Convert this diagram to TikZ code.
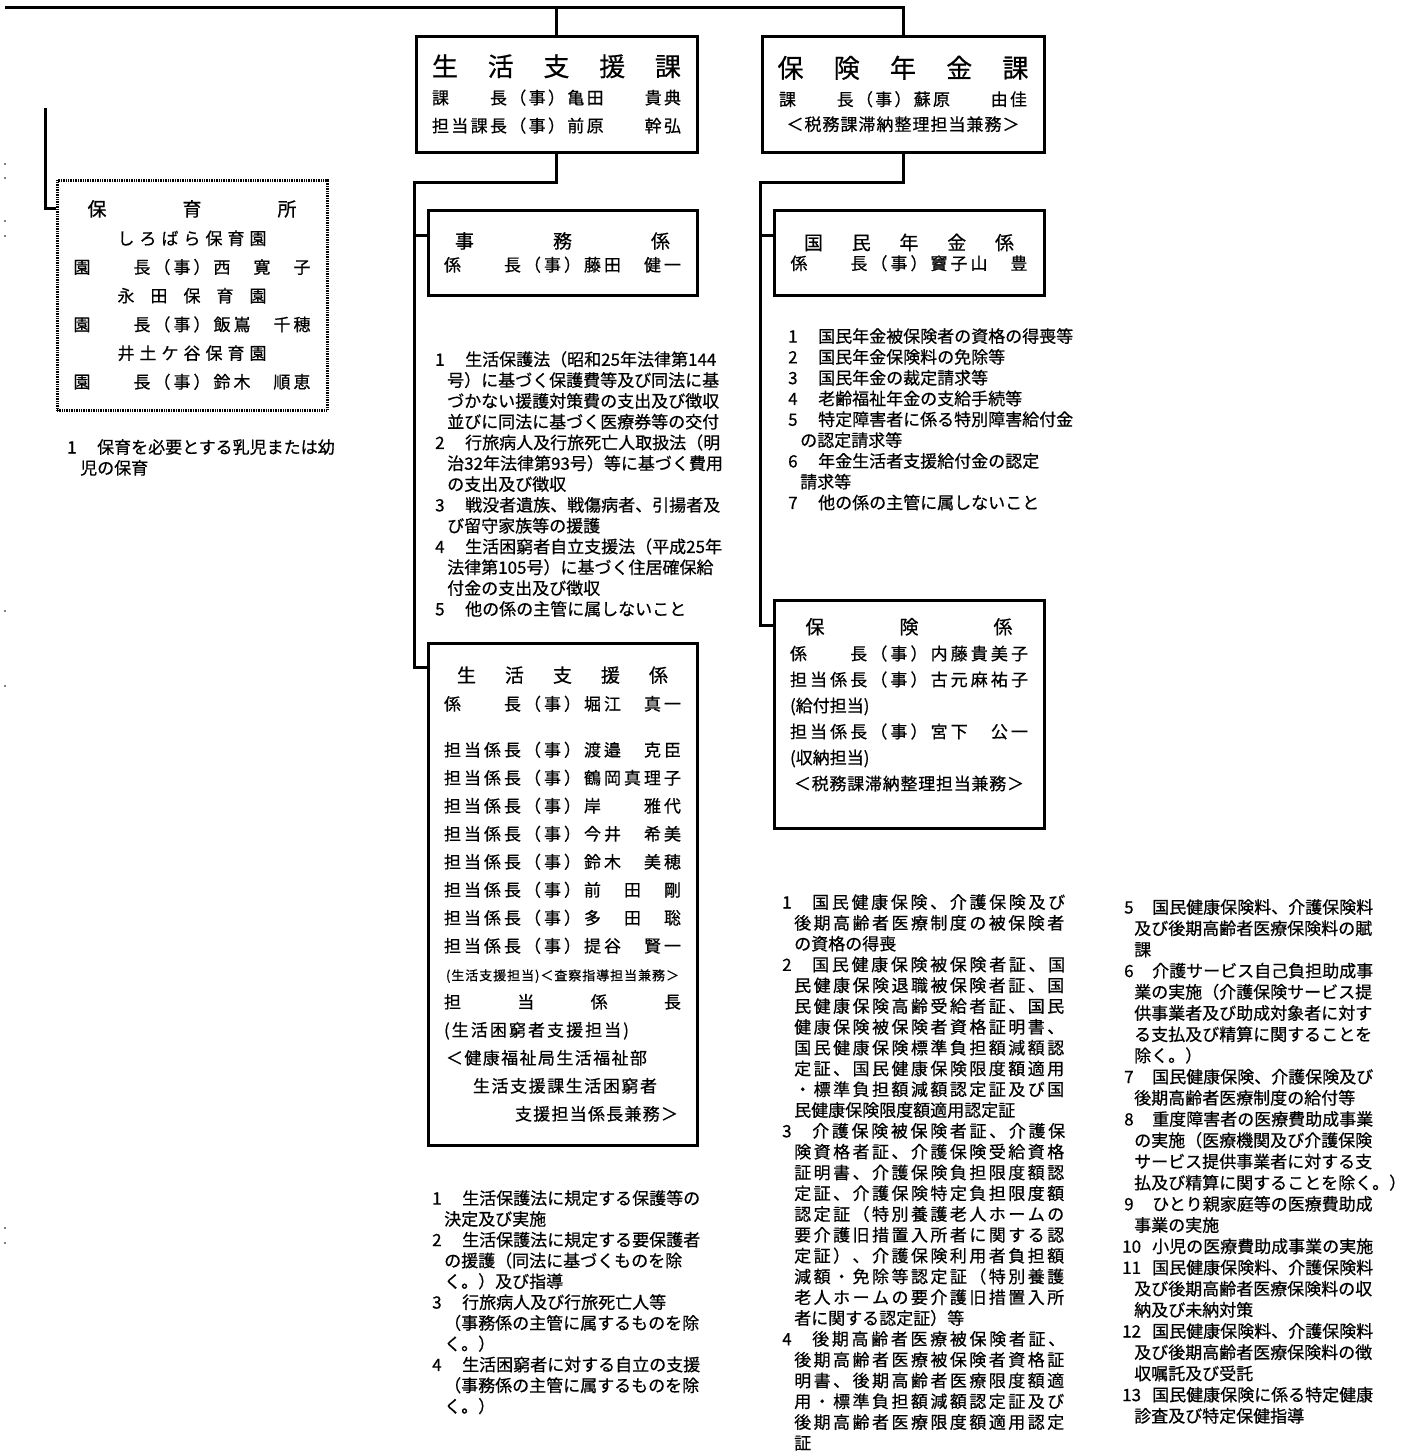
\documentclass[tikz,border=0pt]{standalone}
\usepackage{fontspec}
\setmainfont{Noto Sans CJK JP}[FakeBold=0.6]
\usetikzlibrary{positioning,calc}

\makeatletter
% spread the characters of #2 over the width #1
\def\sprEnd{\sprEnd@}
\newcommand\spr[2]{\makebox[#1][s]{\spr@a#2\sprEnd}}
\def\spr@a#1{#1\futurelet\spr@n\spr@b}
\def\spr@b{\ifx\spr@n\sprEnd\expandafter\@gobble\else\hfill\expandafter\spr@a\fi}
\makeatother

\def\0{\hphantom{国}}
\newcommand\itemno[1]{\makebox[30pt][l]{#1}}
\newcommand\indt{\hspace*{12pt}}
\newcommand\katitle{\fontsize{26}{28}\selectfont}
\newcommand\kakarititle{\fontsize{19}{23}\selectfont}

\tikzset{
  kabox/.style={draw, line width=3pt, minimum width=281pt, minimum height=116pt, align=center, font=\fontsize{17}{28}\selectfont},
  kakaribox/.style={draw, line width=3pt, minimum width=269pt, align=center, font=\fontsize{17}{23}\selectfont},
  hoikubox/.style={draw, line width=3pt, dash pattern=on 1pt off 0.7pt, minimum width=270pt, minimum height=230pt, align=center, font=\fontsize{17}{28.7}\selectfont},
  duties/.style={anchor=north west, align=left, font=\fontsize{17}{20.8}\selectfont},
  link/.style={line width=3pt}
}

\begin{document}
\begin{tikzpicture}[x=1pt, y=-1pt, every node/.append style={inner sep=0pt}]
    \useasboundingbox (0,0) rectangle (1418,1456);

    % 課
    \node[kabox] (seikatsu) at (556.5,94) {{\katitle\spr{249pt}{生活支援課}}\\
        \spr{249pt}{課\0\0長（事）亀田\0\0貴典}\\
        \spr{249pt}{担当課長（事）前原\0\0幹弘}};
    \node[kabox, minimum width=282pt] (hoken) at (903,94) {{\katitle\spr{251pt}{保険年金課}}\\
        \spr{248pt}{課\0\0長（事）蘇原\0\0由佳}\\[-3pt]
        \spr{233pt}{＜税務課滞納整理担当兼務＞}};

    % 係
    \node[kakaribox, minimum height=85pt] (jimu) at (562.5,252.5) {{\kakarititle\spr{215pt}{事務係}}\\
        \spr{237pt}{係\0\0長（事）藤田\0健一}};
    \node[kakaribox, minimum height=85pt, minimum width=270pt] (kokumin) at (909,252.5) {{\kakarititle\spr{210pt}{国民年金係}}\\[-3pt]
        \spr{237pt}{係\0\0長（事）竇子山\0豊}};
    \node[kakaribox, minimum height=228pt, minimum width=270pt, font=\fontsize{17}{26}\selectfont] (hokengakari) at (909,714) {{\kakarititle\spr{207pt}{保険係}}\\
        \spr{238pt}{係\0\0長（事）内藤貴美子}\\
        \spr{238pt}{担当係長（事）古元麻祐子}\\
        \makebox[238pt][l]{(給付担当)}\\
        \spr{238pt}{担当係長（事）宮下\0公一}\\
        \makebox[238pt][l]{(収納担当)}\\
        \spr{230pt}{＜税務課滞納整理担当兼務＞}\\[-6pt]\mbox{}};
    \node[kakaribox, minimum height=502pt, font=\fontsize{17}{28}\selectfont] (seigakari) at (562.5,894) {{\kakarititle\spr{211pt}{生活支援係}}\\
        \spr{237pt}{係\0\0長（事）堀江\0真一}\\[18pt]
        \spr{237pt}{担当係長（事）渡邉\0克臣}\\
        \spr{237pt}{担当係長（事）鶴岡真理子}\\
        \spr{237pt}{担当係長（事）岸\0\0雅代}\\
        \spr{237pt}{担当係長（事）今井\0希美}\\
        \spr{237pt}{担当係長（事）鈴木\0美穂}\\
        \spr{237pt}{担当係長（事）前\0田\0剛}\\
        \spr{237pt}{担当係長（事）多\0田\0聡}\\
        \spr{237pt}{担当係長（事）提谷\0賢一}\\
        {\fontsize{13}{28}\selectfont\spr{233pt}{(生活支援担当)＜査察指導担当兼務＞}}\\
        \spr{237pt}{担当係長}\\
        \makebox[237pt][l]{\spr{185pt}{(生活困窮者支援担当)}}\\
        \makebox[237pt][l]{\hspace{2pt}\spr{201pt}{＜健康福祉局生活福祉部}}\\
        \makebox[237pt][l]{\hspace{29pt}\spr{184pt}{生活支援課生活困窮者}}\\
        \makebox[237pt][l]{\hspace{71pt}\spr{163pt}{支援担当係長兼務＞}}};

    % 保育所
    \node[hoikubox] (hoikusho) at (192,295) {{\kakarititle\spr{209pt}{保育所}}\\
        \spr{149pt}{しろばら保育園}\\
        \spr{237pt}{園\0\0長（事）西\0寛\0子}\\
        \spr{149pt}{永田保育園}\\
        \spr{237pt}{園\0\0長（事）飯嶌\0千穂}\\
        \spr{149pt}{井土ケ谷保育園}\\
        \spr{237pt}{園\0\0長（事）鈴木\0順恵}};

    % 分掌事務
    \node[duties] (hoikulist) at (67,439) {\itemno{1}保育を必要とする乳児または幼\\
        \hspace*{13pt}児の保育};
    \node[duties] (jimulist) at (435,351) {\itemno{1}生活保護法（昭和25年法律第144\\
        \indt 号）に基づく保護費等及び同法に基\\
        \indt づかない援護対策費の支出及び徴収\\
        \indt 並びに同法に基づく医療券等の交付\\
        \itemno{2}行旅病人及行旅死亡人取扱法（明\\
        \indt 治32年法律第93号）等に基づく費用\\
        \indt の支出及び徴収\\
        \itemno{3}戦没者遺族、戦傷病者、引揚者及\\
        \indt び留守家族等の援護\\
        \itemno{4}生活困窮者自立支援法（平成25年\\
        \indt 法律第105号）に基づく住居確保給\\
        \indt 付金の支出及び徴収\\
        \itemno{5}他の係の主管に属しないこと};
    \node[duties] (kokuminlist) at (788,328) {\itemno{1}国民年金被保険者の資格の得喪等\\
        \itemno{2}国民年金保険料の免除等\\
        \itemno{3}国民年金の裁定請求等\\
        \itemno{4}老齢福祉年金の支給手続等\\
        \itemno{5}特定障害者に係る特別障害給付金\\
        \indt の認定請求等\\
        \itemno{6}年金生活者支援給付金の認定\\
        \indt 請求等\\
        \itemno{7}他の係の主管に属しないこと};
    \node[duties] (seigakarilist) at (432,1190) {\itemno{1}生活保護法に規定する保護等の\\
        \indt 決定及び実施\\
        \itemno{2}生活保護法に規定する要保護者\\
        \indt の援護（同法に基づくものを除\\
        \indt く。）及び指導\\
        \itemno{3}行旅病人及び行旅死亡人等\\
        \indt （事務係の主管に属するものを除\\
        \indt く。）\\
        \itemno{4}生活困窮者に対する自立の支援\\
        \indt （事務係の主管に属するものを除\\
        \indt く。）};
    \node[duties] (hokenlist) at (782,894) {\itemno{1}\spr{253pt}{国民健康保険、介護保険及び}\\
        \indt\spr{270pt}{後期高齢者医療制度の被保険者}\\
        \indt の資格の得喪\\
        \itemno{2}\spr{253pt}{国民健康保険被保険者証、国}\\
        \indt\spr{270pt}{民健康保険退職被保険者証、国}\\
        \indt\spr{270pt}{民健康保険高齢受給者証、国民}\\
        \indt\spr{270pt}{健康保険被保険者資格証明書、}\\
        \indt\spr{270pt}{国民健康保険標準負担額減額認}\\
        \indt\spr{270pt}{定証、国民健康保険限度額適用}\\
        \indt\spr{270pt}{・標準負担額減額認定証及び国}\\
        \indt 民健康保険限度額適用認定証\\
        \itemno{3}\spr{253pt}{介護保険被保険者証、介護保}\\
        \indt\spr{270pt}{険資格者証、介護保険受給資格}\\
        \indt\spr{270pt}{証明書、介護保険負担限度額認}\\
        \indt\spr{270pt}{定証、介護保険特定負担限度額}\\
        \indt\spr{270pt}{認定証（特別養護老人ホームの}\\
        \indt\spr{270pt}{要介護旧措置入所者に関する認}\\
        \indt\spr{270pt}{定証）、介護保険利用者負担額}\\
        \indt\spr{270pt}{減額・免除等認定証（特別養護}\\
        \indt\spr{270pt}{老人ホームの要介護旧措置入所}\\
        \indt 者に関する認定証）等\\
        \itemno{4}\spr{253pt}{後期高齢者医療被保険者証、}\\
        \indt\spr{270pt}{後期高齢者医療被保険者資格証}\\
        \indt\spr{270pt}{明書、後期高齢者医療限度額適}\\
        \indt\spr{270pt}{用・標準負担額減額認定証及び}\\
        \indt\spr{270pt}{後期高齢者医療限度額適用認定}\\
        \indt 証};
    \node[duties, font=\fontsize{17}{21.2}\selectfont] (hokenlist2) at (1122,899) {\itemno{\hspace{2pt}5}国民健康保険料、介護保険料\\
        \indt 及び後期高齢者医療保険料の賦\\
        \indt 課\\
        \itemno{\hspace{2pt}6}介護サービス自己負担助成事\\
        \indt 業の実施（介護保険サービス提\\
        \indt 供事業者及び助成対象者に対す\\
        \indt る支払及び精算に関することを\\
        \indt 除く。）\\
        \itemno{\hspace{2pt}7}国民健康保険、介護保険及び\\
        \indt 後期高齢者医療制度の給付等\\
        \itemno{\hspace{2pt}8}重度障害者の医療費助成事業\\
        \indt の実施（医療機関及び介護保険\\
        \indt サービス提供事業者に対する支\\
        \indt 払及び精算に関することを除く。）\\
        \itemno{\hspace{2pt}9}ひとり親家庭等の医療費助成\\
        \indt 事業の実施\\
        \itemno{10}小児の医療費助成事業の実施\\
        \itemno{11}国民健康保険料、介護保険料\\
        \indt 及び後期高齢者医療保険料の収\\
        \indt 納及び未納対策\\
        \itemno{12}国民健康保険料、介護保険料\\
        \indt 及び後期高齢者医療保険料の徴\\
        \indt 収嘱託及び受託\\
        \itemno{13}国民健康保険に係る特定健康\\
        \indt 診査及び特定保健指導};

    % 組織線
    \coordinate (head) at (5,7);
    \coordinate (hoikutop) at (45,108);
    \draw[link] (head) -| (hoken.north);
    \draw[link] (seikatsu.north) -- (seikatsu.north |- head);
    \draw[link] (seikatsu.south) -- ++(0,29) -| ($(seigakari.north west)+(-12,26)$) -- ($(seigakari.north west)+(0,26)$);
    \draw[link] ($(jimu.north west)+(0,27)$) -- ++(-12,0);
    \draw[link] (hoken.south) -- ++(0,29) -| ($(hokengakari.north west)+(-12,27)$) -- ($(hokengakari.north west)+(0,27)$);
    \draw[link] ($(kokumin.north west)+(0,27)$) -- ++(-12,0);
    \draw[link] (hoikutop) |- ($(hoikusho.north west)+(0,30)$);

    % 左端の点
    \foreach \y in {164,178,221,236,611,686,1228,1243}
        \fill (5,\y) circle (0.8pt);
\end{tikzpicture}
\end{document}
